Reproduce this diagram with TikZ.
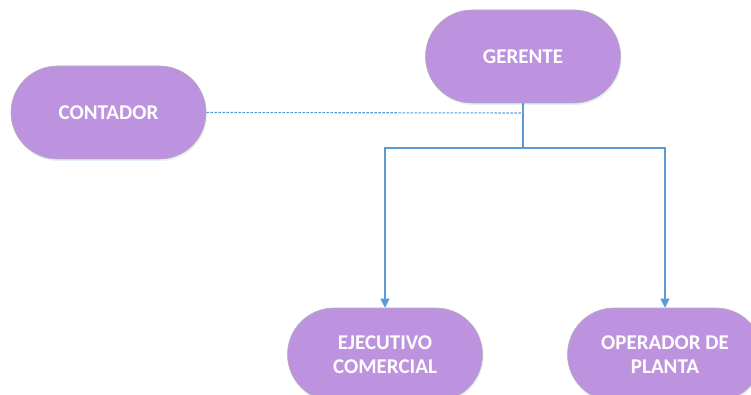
\documentclass[tikz,border=0pt]{standalone}
\usepackage{fontspec}
\setmainfont{Carlito}
\usetikzlibrary{shapes.misc,arrows.meta,shadows}
\definecolor{boxfill}{HTML}{BD92DE}
\definecolor{boxline}{HTML}{B4B0B8}
\definecolor{linkblue}{HTML}{5B9BD5}
\tikzset{
  rolebox/.style={rounded rectangle, fill=boxfill, draw=boxline, line width=0.6pt,
    minimum width=195pt, minimum height=93pt, inner sep=0pt,
    text=white, font=\bfseries\fontsize{21}{24}\selectfont, align=center,
    drop shadow={shadow xshift=1pt, shadow yshift=-2pt, fill=linkblue!25, opacity=0.6}},
  link/.style={draw=linkblue, line width=1.1pt},
  arrowlink/.style={link, -{Triangle[width=9pt,length=9pt]}},
  dotlink/.style={link, line width=1.1pt, dash pattern=on 2.5pt off 1.5pt}
}
\begin{document}
\begin{tikzpicture}[x=1pt,y=-1pt]
\useasboundingbox (0,0) rectangle (751,395);
\clip (0,0) rectangle (751,395);
\fill[white] (0,0) rectangle (751,395);
\node[rolebox] (contador) at (108.5,112.5) {CONTADOR};
\node[rolebox] (gerente) at (523,56.5) {GERENTE};
\node[rolebox] (ejecutivo) at (385,354.5) {EJECUTIVO\\COMERCIAL};
\node[rolebox] (operador) at (665,354.5) {OPERADOR DE\\PLANTA};
\coordinate (split) at (523,148);
\coordinate (dotend) at (523,113);
\draw[link] (gerente.south) -- (split);
\draw[arrowlink] (split) -| (ejecutivo.north);
\draw[arrowlink] (split) -| (operador.north);
\draw[dotlink] (contador.east) -- (dotend);
\end{tikzpicture}
\end{document}
